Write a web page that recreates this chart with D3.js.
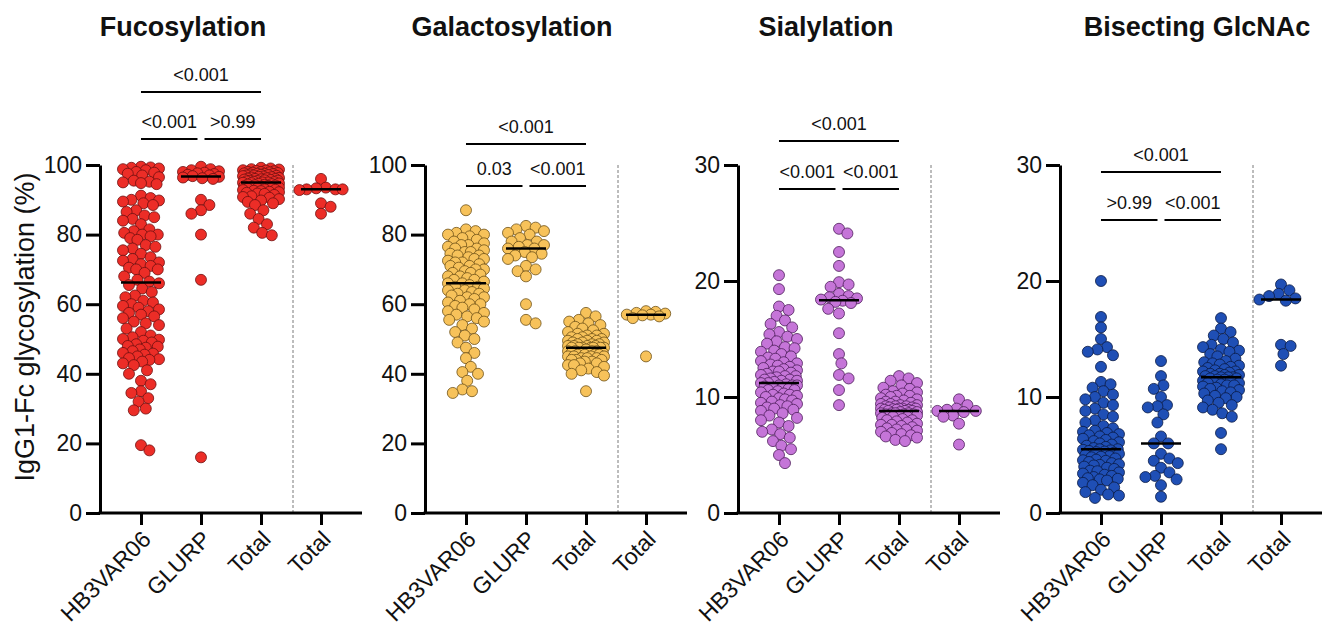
<!DOCTYPE html>
<html>
<head>
<meta charset="utf-8">
<script src="https://cdn.jsdelivr.net/npm/d3@7"></script>
<style>
    body { margin: 0; background: #fff; }
    text { font-family: "Liberation Sans", Arial, sans-serif; }
</style>
</head>
<body>
<svg width="1327" height="632"></svg>
<script>
// Panel titles and x categories (last "Total" sits right of the dashed line)
var panelTitles = ['Fucosylation', 'Galactosylation', 'Sialylation', 'Bisecting GlcNAc'];
var categories = ['HB3VAR06', 'GLURP', 'Total', 'Total'];
var yLabel = 'IgG1-Fc glycosylation (%)';

var ticksPct = [0, 20, 40, 60, 80, 100];
var ticksLow = [0, 10, 20, 30];

// p-values: [HB3VAR06 vs Total, HB3VAR06 vs GLURP, GLURP vs Total]
var fucoP = ['<0.001', '<0.001', '>0.99'];
var galP = ['<0.001', '0.03', '<0.001'];
var siaP = ['<0.001', '<0.001', '<0.001'];
var bisP = ['<0.001', '>0.99', '<0.001'];

// Fucosylation (%)
var fucoHB3 = [99.5, 99.3, 99.2, 99, 98.8, 98.5, 98, 97.8, 97.5, 97, 96.5, 95.5, 95.2, 95, 94.8, 94.5,
    91.2, 90.5, 90, 89.8, 89.5, 89, 88.5, 87, 86.5, 85.5, 85, 84.5, 84, 83,
    81.5, 81, 80.5, 80, 80, 79.5, 79, 78.5, 77, 76.5, 76, 75.5, 74.5, 73.5, 73, 72.5, 72, 71.5, 71, 70.5, 70, 70,
    69, 68, 67, 66.5, 66, 65.5, 64.5, 63.5, 62.5, 62, 61, 60.5, 60, 59.5, 59, 58.5, 58, 57.5, 57, 56.5, 56,
    55, 54.5, 54, 53, 52, 51, 50.5, 50, 49.8, 49.5, 49, 48.5, 48, 47.8, 47.5, 47, 46.5, 46, 45.8, 45.5, 45,
    44.5, 44.2, 44, 43.5, 43, 42.5, 41, 40,
    38, 37, 35, 34.5, 33, 32, 30, 29.5, 19.5, 18];
var fucoGLURP = [99.5, 98.8, 98.5, 98.2, 98, 97.8, 97.6, 97.4, 97.2, 97, 96.8, 96.6, 96.4, 96.2, 96,
    90, 88.5, 87, 86, 80, 67, 16];
var fucoTotal = [99.2, 99, 98.8, 98.7, 98.5, 98.4, 98.3, 98.2, 98, 98, 97.9, 97.8, 97.7, 97.6, 97.5, 97.5,
    97.4, 97.3, 97.2, 97.1, 97, 97, 96.9, 96.8, 96.7,
    96.6, 96.5, 96.4, 96.3, 96.2, 96.1, 96, 96, 95.9, 95.8, 95.7, 95.6, 95.5, 95.5, 95.4, 95.3, 95.2, 95.1,
    95, 95, 94.9, 94.8, 94.7, 94.6, 94.5,
    94.4, 94.3, 94.2, 94.1, 94, 93.9, 93.8, 93.6, 93.5, 93.4, 93.3, 93.2, 93, 92.9, 92.8, 92.6, 92.5, 92.3,
    92.2, 92, 91.8, 91.7, 91.4, 91, 90.8, 90.6, 90.2, 89.8, 89.4, 89, 88.5,
    87, 86, 84.5, 83, 82, 80.5, 79.8];
var fucoTotal2 = [96, 93.5, 93.3, 93, 93, 93, 92.8, 89, 88, 86];

// Galactosylation (%)
var galHB3 = [87, 81.5, 81, 80.5, 80, 80, 79.5, 79, 78.5, 78, 77.5, 77, 77, 76.5, 76, 76, 75.5, 75, 75,
    74.5, 74, 74, 73.5, 73, 73, 72.5, 72, 72, 71.5, 71, 71, 70.5, 70, 70,
    69.5, 69, 69, 68.5, 68, 68, 67.5, 67, 67, 66.5, 66, 66, 65.5, 65, 65,
    64.5, 64, 64, 63.5, 63, 63, 62.5, 62, 62, 61.5, 61, 60.5, 60, 60,
    59.5, 59, 58.5, 58, 57.5, 57, 56.5, 56, 55.5, 55,
    54, 53, 52, 51, 50, 49, 47.5, 46, 44.5, 42, 40.5, 40, 38, 35.5, 35, 34.5];
var galGLURP = [82.5, 82, 81.5, 81, 80.5, 80, 79, 78, 78, 77, 77, 76.5, 76, 76, 75, 74.5, 74, 73.5, 73,
    71, 70, 69.5, 68, 60, 55.5, 54.5];
var galTotal = [57.5, 56.5, 55.5, 55, 54.5, 54, 53.5, 53, 52.5, 52, 51.5, 51.5, 51, 51, 50.5, 50.5, 50, 50, 50,
    49.5, 49.5, 49.5, 49, 49, 49, 48.5, 48.5, 48.5, 48, 48, 48, 48,
    47.5, 47.5, 47.5, 47.5, 47.5, 47.5, 47.5, 47,
    46.5, 46.5, 46.5, 46.5, 46, 46, 46, 46, 45.5, 45.5, 45.5, 45.5, 45, 45, 45, 45,
    44.5, 44.5, 44.5, 44, 44, 44, 43.5, 43.5, 43, 43, 42.5, 42.5, 42, 41.5, 41, 40.5, 40, 39.5, 35];
var galTotal2 = [58, 57.8, 57.5, 57.3, 57, 57, 56.8, 56.5, 56, 45];

// Sialylation (%)
var siaHB3 = [20.5, 19.3, 17.8, 17.5, 17, 16.6, 16.3, 16, 15.6, 15.4, 15.2, 15, 14.8, 14.6, 14.3, 14.2, 14,
    13.9, 13.7, 13.5, 13.4, 13.3, 13.1, 13, 12.9, 12.8, 12.7, 12.6, 12.5, 12.4, 12.3, 12.2, 12.2, 12.1, 12,
    11.9, 11.8, 11.8, 11.7, 11.6, 11.5, 11.5, 11.4, 11.4, 11.3, 11.2, 11.2,
    11.1, 11, 11, 11, 10.9, 10.8, 10.8, 10.7, 10.6, 10.6, 10.5, 10.4, 10.3, 10.2, 10.2, 10.1, 10, 9.9, 9.8,
    9.7, 9.6, 9.5, 9.4, 9.3, 9.2, 9.1, 9, 8.9, 8.8, 8.6, 8.4, 8.2, 8, 7.8, 7.5, 7.2, 7, 6.8, 6.5, 6.2,
    5.8, 5.5, 5, 4.3];
var siaGLURP = [24.5, 24.1, 22.5, 21.3, 19.9, 19.7, 19.5, 18.9, 18.7, 18.6, 18.5, 18.4, 18.3, 18.2, 18.1,
    17.6, 17.2, 15.5, 13.7, 12.9, 11.9, 11.6, 10.6, 9.3];
var siaTotal = [11.8, 11.6, 11.4, 11.2, 11, 10.8, 10.7, 10.5, 10.4, 10.3, 10.2, 10.1, 10.1,
    10, 9.9, 9.8, 9.7, 9.6, 9.6, 9.5, 9.4, 9.4, 9.3, 9.3, 9.2, 9.2, 9.2, 9.1, 9.1, 9, 9, 9, 9, 8.95, 8.9, 8.9,
    8.9, 8.8, 8.8, 8.8, 8.7, 8.7, 8.6, 8.6, 8.6, 8.6, 8.5, 8.5, 8.5, 8.4, 8.4, 8.4, 8.3, 8.3, 8.2, 8.1, 8, 8,
    7.9, 7.8, 7.7, 7.6, 7.6, 7.5, 7.4, 7.3, 7.2, 7.2, 7.1, 7, 6.9, 6.8, 6.7, 6.6, 6.5, 6.3, 6.2];
var siaTotal2 = [9.8, 9.3, 9, 8.9, 8.8, 8.8, 8.7, 8.4, 8.3, 7.7, 5.9];

// Bisecting GlcNAc (%)
var bisHB3 = [20, 16.9, 16, 15, 14.3, 14.1, 13.9, 13.6, 12.6, 11.3, 11.1, 10.8, 10.5, 10.2, 10,
    9.8, 9.5, 9.3, 9, 8.8, 8.5, 8.3, 8, 7.8, 7.5, 7.3, 7.1, 7,
    6.9, 6.8, 6.7, 6.6, 6.5, 6.4, 6.3, 6.2, 6.1, 6, 5.9, 5.8, 5.7, 5.6, 5.5, 5.5,
    5.45, 5.4, 5.35, 5.3, 5.25, 5.2, 5.1, 5, 4.9, 4.85, 4.8, 4.7, 4.6, 4.55, 4.5, 4.4, 4.3, 4.2, 4.15,
    4.1, 4, 3.9, 3.8, 3.65, 3.6, 3.5, 3.4, 3.3, 3.2, 3.1, 3, 2.95, 2.9, 2.8, 2.6, 2.4, 2.2, 2,
    1.8, 1.6, 1.5, 1.3];
var bisGLURP = [13.1, 11.8, 11, 10.7, 10, 9.3, 9.2, 9.1, 8.5, 7.8, 6.6, 6, 6, 5.1, 4.7, 4.5, 4.3,
    3.9, 3.5, 3.2, 3.1, 2.9, 2.4, 1.4];
var bisTotal = [16.8, 15.9, 15.6, 15.3, 15, 14.7, 14.5, 14.3, 14.1, 14, 13.9, 13.7, 13.5,
    13.3, 13.1, 13, 12.9, 12.8, 12.7, 12.6, 12.5, 12.4, 12.3, 12.2, 12.2, 12.1, 12, 12, 11.9, 11.9,
    11.8, 11.8, 11.7, 11.7, 11.7, 11.6, 11.6, 11.5, 11.5, 11.4, 11.4, 11.3, 11.2, 11.2, 11.1, 11, 11, 10.9,
    10.8, 10.7, 10.6, 10.5, 10.4, 10.3, 10.1, 10, 9.9, 9.7, 9.5, 9.3, 9.1, 8.9, 8.6, 8.3, 6.9, 5.5];
var bisTotal2 = [19.7, 19.2, 18.9, 18.7, 18.5, 18.4, 18.3, 14.5, 14.4, 13.7, 12.7];

// Panel table built from the arrays above
var panels = [
    {title: panelTitles[0], groups: [fucoHB3, fucoGLURP, fucoTotal, fucoTotal2], ticks: ticksPct, p: fucoP,
     fill: '#ec2d27', stroke: '#6e1010', x0: 100, titleX: 183, barY: [92, 139]},
    {title: panelTitles[1], groups: [galHB3, galGLURP, galTotal, galTotal2], ticks: ticksPct, p: galP,
     fill: '#f7c25a', stroke: '#6e5218', x0: 425, titleX: 512, barY: [144, 186]},
    {title: panelTitles[2], groups: [siaHB3, siaGLURP, siaTotal, siaTotal2], ticks: ticksLow, p: siaP,
     fill: '#c575d8', stroke: '#4e1e5c', x0: 738, titleX: 826, barY: [141, 189]},
    {title: panelTitles[3], groups: [bisHB3, bisGLURP, bisTotal, bisTotal2], ticks: ticksLow, p: bisP,
     fill: '#1f4fb5', stroke: '#0a1a45', x0: 1060, titleX: 1197, barY: [172, 220]}
];

var svg = d3.select('svg');
var plotTop = 165, plotBottom = 513, axisLen = 262;
var r = 5.5;

// greedy swarm: nudge each point sideways until it clears its neighbours,
// and let points overlap once the group gets wider than maxHalf
function swarm(values, cx, yScale, maxHalf) {
    var pts = values.map(function(v) { return {v: v, y: yScale(v)}; })
        .sort(function(a, b) { return a.y - b.y; });
    var minD = 2 * r * 0.86;
    var placed = [];
    pts.forEach(function(p) {
        var best = 0, bestScore = -1;
        for (var k = 0; k < 60; k++) {
            var off = (k % 2 ? 1 : -1) * Math.ceil(k / 2) * 1.2;
            if (Math.abs(off) > maxHalf) break;
            var dmin = Infinity;
            placed.forEach(function(q) {
                var dy = q.y - p.y;
                if (Math.abs(dy) < minD) {
                    dmin = Math.min(dmin, Math.hypot(q.x - (cx + off), dy));
                }
            });
            if (dmin >= minD) { best = off; break; }
            if (dmin > bestScore) { bestScore = dmin; best = off; }
        }
        p.x = cx + best;
        placed.push(p);
    });
    return placed;
}

panels.forEach(function(p) {
    var g = svg.append('g');
    var yScale = d3.scaleLinear().domain([0, d3.max(p.ticks)]).range([plotBottom, plotTop]);
    var xScale = d3.scalePoint().domain([0, 1, 2, 3]).range([p.x0, p.x0 + axisLen]).padding(0.683);

    // title
    g.append('text')
        .attr('x', p.titleX)
        .attr('y', 36)
        .attr('text-anchor', 'middle')
        .style('font-size', '27px')
        .style('font-weight', 'bold')
        .attr('fill', '#111')
        .text(p.title);

    // dashed separator before the last group
    var sepX = (xScale(2) + xScale(3)) / 2 + 2;
    g.append('line')
        .attr('x1', sepX).attr('x2', sepX)
        .attr('y1', plotTop).attr('y2', plotBottom)
        .attr('stroke', '#7a7a7a')
        .attr('stroke-width', 1)
        .attr('stroke-dasharray', '3,2');

    // points and median lines
    p.groups.forEach(function(vals, gi) {
        var maxHalf = gi === 3 ? 22 : 19;
        var pts = swarm(vals, xScale(gi), yScale, maxHalf);
        g.selectAll('.pt' + gi).data(pts).enter().append('circle')
            .attr('class', 'pt' + gi)
            .attr('cx', function(d) { return d.x; })
            .attr('cy', function(d) { return d.y; })
            .attr('r', r)
            .attr('fill', p.fill)
            .attr('stroke', p.stroke)
            .attr('stroke-width', 0.8);

        var med = d3.median(vals);
        g.append('line')
            .attr('x1', xScale(gi) - 20).attr('x2', xScale(gi) + 20)
            .attr('y1', yScale(med)).attr('y2', yScale(med))
            .attr('stroke', 'black')
            .attr('stroke-width', 2.5);
    });

    // y axis
    var yAxis = d3.axisLeft(yScale).tickValues(p.ticks).tickSize(14).tickSizeOuter(0).tickPadding(4);
    var ya = g.append('g')
        .attr('transform', 'translate(' + p.x0 + ',0)')
        .call(yAxis);
    ya.select('.domain').attr('stroke-width', 3);
    ya.selectAll('.tick line').attr('stroke-width', 3);
    ya.selectAll('.tick text').style('font-size', '23px').attr('fill', '#111');

    // x axis
    var xAxis = d3.axisBottom(xScale).tickSize(12).tickSizeOuter(0)
        .tickFormat(function(i) { return categories[i]; });
    var xa = g.append('g')
        .attr('transform', 'translate(0,' + plotBottom + ')')
        .call(xAxis);
    xa.select('.domain').attr('stroke-width', 3).attr('d', 'M' + (p.x0 - 1.5) + ',0H' + (p.x0 + axisLen));
    xa.selectAll('.tick line').attr('stroke-width', 3);
    xa.selectAll('.tick text')
        .style('font-size', '23px')
        .attr('fill', '#111')
        .attr('text-anchor', 'end')
        .attr('x', 0).attr('y', 0).attr('dy', '0.35em')
        .attr('transform', 'translate(5,22) rotate(-45)');

    // significance bars
    var t1 = xScale(0), t2 = xScale(1), t3 = xScale(2);
    var bars = [
        {x1: t1, x2: t3, y: p.barY[0], label: p.p[0]},
        {x1: t1, x2: t2 - 3.5, y: p.barY[1], label: p.p[1]},
        {x1: t2 + 3.5, x2: t3, y: p.barY[1], label: p.p[2]}
    ];
    g.selectAll('.sig').data(bars).enter().append('line')
        .attr('class', 'sig')
        .attr('x1', function(d) { return d.x1; })
        .attr('x2', function(d) { return d.x2; })
        .attr('y1', function(d) { return d.y; })
        .attr('y2', function(d) { return d.y; })
        .attr('stroke', 'black')
        .attr('stroke-width', 2);
    g.selectAll('.sigText').data(bars).enter().append('text')
        .attr('class', 'sigText')
        .attr('x', function(d) { return (d.x1 + d.x2) / 2; })
        .attr('y', function(d) { return d.y - 11; })
        .attr('text-anchor', 'middle')
        .style('font-size', '18px')
        .attr('fill', '#111')
        .text(function(d) { return d.label; });
});

// shared y-axis label
svg.append('text')
    .attr('transform', 'translate(34,327) rotate(-90)')
    .attr('text-anchor', 'middle')
    .style('font-size', '27px')
    .attr('fill', '#111')
    .text(yLabel);
</script>
</body>
</html>
